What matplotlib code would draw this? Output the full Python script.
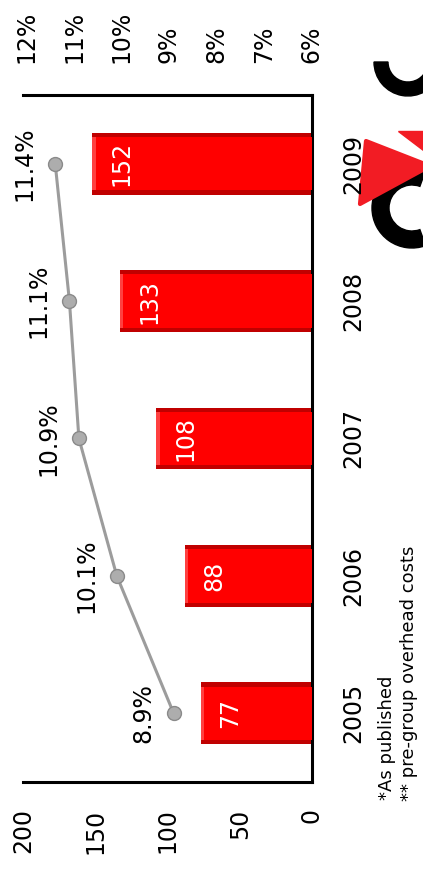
import matplotlib.pyplot as plt
from matplotlib.patches import Wedge, Polygon

years = ['2005', '2006', '2007', '2008', '2009']
ebit = [77, 88, 108, 133, 152]
margin = [8.9, 10.1, 10.9, 11.1, 11.4]
value_ticks = [0, 50, 100, 150, 200]
pct_ticks = [6, 7, 8, 9, 10, 11, 12]

plt.rcParams['font.family'] = ['DejaVu Sans']

W, H = 423, 874
fig = plt.figure(figsize=(W / 100, H / 100), dpi=100)
ax = fig.add_axes([23 / W, 1 - 782 / H, (312 - 23) / W, (782 - 95) / H])
pos = list(range(len(years)))

# bevelled bars: dark rim, bright face, lighter end cap
ax.barh(pos, ebit, height=0.45, color='#c00000', zorder=2)
ax.barh(pos, [v - 2.5 for v in ebit], height=0.39, color='#ff0000', zorder=3)
ax.barh(pos, [2.5] * len(ebit), left=[v - 2.5 for v in ebit], height=0.39,
        color='#ff4040', zorder=3)
for i, v in enumerate(ebit):
    ax.annotate(str(v), (v, i), xytext=(21, 0), textcoords='offset points',
                rotation=90, ha='center', va='center', color='white',
                fontsize=17, zorder=5)

ax.set_xlim(200, 0)
ax.set_ylim(-0.5, 4.5)
ax.set_xticks(value_ticks)
ax.set_xticklabels([str(t) for t in value_ticks], rotation=90)
ax.tick_params(axis='x', length=0, pad=19, labelsize=17)
ax.yaxis.tick_right()
ax.set_yticks(pos)
ax.set_yticklabels(years, rotation=90, va='center')
ax.tick_params(axis='y', length=0, pad=21, labelsize=17)
ax.spines['left'].set_visible(False)
for s in ['top', 'right', 'bottom']:
    ax.spines[s].set_linewidth(2.2)

# margin line on its own percent scale
ax2 = ax.twiny()
ax2.set_xlim(12.08, 5.98)
ax2.plot(margin, pos, color='#9c9c9c', lw=2.2, marker='o', ms=10,
         mfc='#adadad', mec='#8a8a8a', mew=1, zorder=4)
ax2.set_xticks(pct_ticks)
ax2.set_xticklabels([f'{t}%' for t in pct_ticks], rotation=90)
ax2.tick_params(axis='x', length=0, pad=23, labelsize=17)
for s in ax2.spines.values():
    s.set_visible(False)
for i, p in enumerate(margin):
    ax2.annotate(f'{p}%', (p, i), xytext=(-22, 0), textcoords='offset points',
                 rotation=90, ha='center', va='center', fontsize=17)

# logo and footnotes in pixel space
deco = fig.add_axes([0, 0, 1, 1], zorder=-1)
deco.set_xlim(0, W)
deco.set_ylim(H, 0)
deco.axis('off')
deco.add_patch(Wedge((408, 62), 34, 20, 180, width=14, color='black'))
deco.add_patch(Wedge((412, 208), 40, 70, 290, width=17, color='black'))
deco.add_patch(Polygon([(366, 141), (360, 204), (430, 166)], closed=True,
                       color='#f21c24', joinstyle='round', lw=3))
deco.add_patch(Polygon([(398, 131), (423, 131), (423, 150)], closed=True,
                       color='#f21c24'))

fig.text(387 / W, 1 - 800 / H, '*As published', rotation=90,
         ha='center', va='bottom', fontsize=13)
fig.text(409 / W, 1 - 801 / H, '** pre-group overhead costs', rotation=90,
         ha='center', va='bottom', fontsize=13)

fig.savefig('out.png', dpi=100)
